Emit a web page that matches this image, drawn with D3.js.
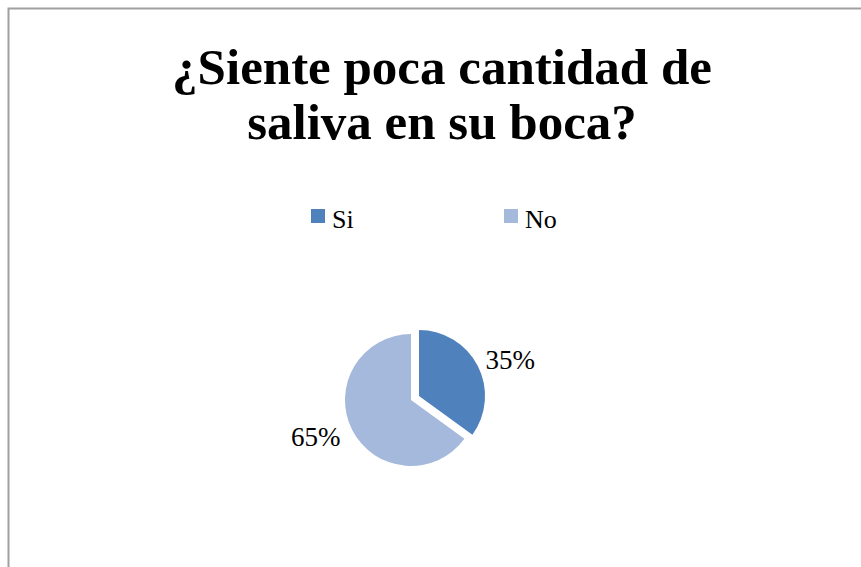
<!DOCTYPE html>
<html>
<head>
<meta charset="utf-8">
<script src="https://cdn.jsdelivr.net/npm/d3@7"></script>
<style>
  body { margin: 0; background: #fff; }
  text { font-family: "Liberation Serif", "DejaVu Serif", serif; fill: #000; }
</style>
</head>
<body>
<svg id="chart"></svg>
<script>
var categories = ["Si", "No"];
var values = [35, 65];
var colors = ["#4F81BD", "#A4B9DB"];
var titleLines = ["¿Siente poca cantidad de", "saliva en su boca?"];

var width = 861, height = 567;
var cx = 411, cy = 400, radius = 66;
var explode = 9;
var labelRadius = 100;

var svg = d3.select("#chart")
  .attr("width", width)
  .attr("height", height);

// frame (runs off the right and bottom edges)
svg.append("rect")
  .attr("x", 8.5).attr("y", 8.5)
  .attr("width", width + 20).attr("height", height + 20)
  .attr("fill", "#fff")
  .attr("stroke", "#a0a0a0")
  .attr("stroke-width", 2);

// title
svg.append("g").selectAll("text")
  .data(titleLines)
  .enter().append("text")
    .attr("x", 442)
    .attr("y", function(d, i) { return 84 + i * 55; })
    .attr("text-anchor", "middle")
    .style("font-size", "51px")
    .style("font-weight", "bold")
    .text(function(d) { return d; });

// legend
var legendX = d3.scalePoint().domain(categories).range([311, 504]);
var legend = svg.append("g").selectAll("g")
  .data(categories)
  .enter().append("g")
    .attr("transform", function(d) { return "translate(" + legendX(d) + ",209)"; });
legend.append("rect")
  .attr("width", 14).attr("height", 14)
  .attr("fill", function(d, i) { return colors[i]; });
legend.append("text")
  .attr("x", 21).attr("y", 19)
  .style("font-size", "26px")
  .text(function(d) { return d; });

// pie
var total = d3.sum(values);
var pie = d3.pie().sort(null).value(function(d) { return d; });
var arcs = pie(values);
var arc = d3.arc().innerRadius(0).outerRadius(radius);

function offset(d, i) {
  if (i !== 0) return [0, 0];
  var a = (d.startAngle + d.endAngle) / 2;
  return [Math.sin(a) * explode, -Math.cos(a) * explode];
}

var slices = svg.append("g")
  .attr("transform", "translate(" + cx + "," + cy + ")")
  .selectAll("g")
  .data(arcs)
  .enter().append("g")
    .attr("transform", function(d, i) { var o = offset(d, i); return "translate(" + o[0] + "," + o[1] + ")"; });

slices.append("path")
  .attr("d", arc)
  .attr("fill", function(d, i) { return colors[i]; });

slices.append("text")
  .attr("transform", function(d) {
    var a = (d.startAngle + d.endAngle) / 2 + 0.1;
    return "translate(" + (Math.sin(a) * labelRadius - 2) + "," + (-Math.cos(a) * labelRadius) + ")";
  })
  .attr("text-anchor", "middle")
  .attr("dy", "0.35em")
  .style("font-size", "27px")
  .text(function(d) { return Math.round(d.value / total * 100) + "%"; });
</script>
</body>
</html>
